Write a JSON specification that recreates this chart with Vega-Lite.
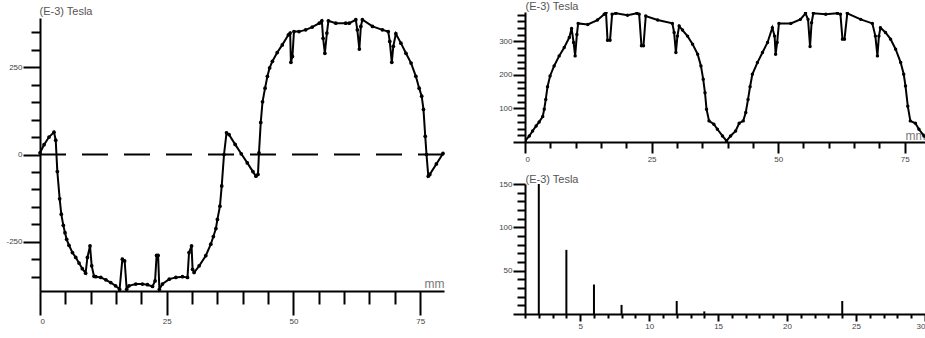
{
  "$schema": "https://vega.github.io/schema/vega-lite/v6.json",
  "padding": {"left": 5, "top": 0, "right": 0, "bottom": 0},
  "background": "white",
  "config": {
    "view": {"stroke": null},
    "axis": {
      "grid": false,
      "domainColor": "black",
      "domainWidth": 2,
      "tickColor": "black",
      "tickWidth": 2,
      "labelFont": "Liberation Sans",
      "labelFontSize": 8,
      "labelColor": "#444",
      "labelOverlap": false,
      "titleFont": "Liberation Sans",
      "titleFontSize": 11,
      "titleFontWeight": "normal",
      "titleColor": "#555"
    }
  },
  "datasets": {
    "signed": [
      {"mm":0,"B":5},{"mm":0.8,"B":28},{"mm":1.78,"B":50},{"mm":2.76,"B":64},{"mm":3.1,"B":41},{"mm":3.42,"B":-49},{"mm":3.88,"B":-127},{"mm":4.2,"B":-171},{"mm":4.6,"B":-203},{"mm":4.93,"B":-224},{"mm":5.26,"B":-243},{"mm":5.72,"B":-260},{"mm":6.4,"B":-281},{"mm":7.05,"B":-295},{"mm":7.7,"B":-311},{"mm":8.35,"B":-327},{"mm":9.0,"B":-340},{"mm":9.35,"B":-295},{"mm":9.87,"B":-262},{"mm":10.2,"B":-319},{"mm":10.66,"B":-349},{"mm":11.0,"B":-350},{"mm":12.0,"B":-352},{"mm":13.0,"B":-359},{"mm":13.95,"B":-367},{"mm":14.9,"B":-376},{"mm":15.7,"B":-386},{"mm":16.25,"B":-300},{"mm":16.7,"B":-305},{"mm":17.1,"B":-386},{"mm":17.56,"B":-376},{"mm":18.9,"B":-371},{"mm":20.2,"B":-371},{"mm":21.2,"B":-373},{"mm":22.2,"B":-378},{"mm":22.7,"B":-362},{"mm":23.0,"B":-289},{"mm":23.3,"B":-289},{"mm":23.55,"B":-386},{"mm":24.15,"B":-371},{"mm":25.5,"B":-357},{"mm":26.8,"B":-352},{"mm":28.1,"B":-350},{"mm":29.1,"B":-352},{"mm":29.4,"B":-281},{"mm":29.9,"B":-262},{"mm":30.1,"B":-329},{"mm":30.4,"B":-338},{"mm":31.4,"B":-319},{"mm":32.7,"B":-290},{"mm":33.7,"B":-257},{"mm":34.2,"B":-235},{"mm":34.7,"B":-212},{"mm":35.0,"B":-186},{"mm":35.5,"B":-148},{"mm":35.85,"B":-90},{"mm":36.3,"B":0},{"mm":36.8,"B":62},{"mm":37.3,"B":57},{"mm":38.5,"B":29},{"mm":39.7,"B":2},{"mm":40.9,"B":-24},{"mm":42.0,"B":-49},{"mm":42.6,"B":-62},{"mm":43.0,"B":-57},{"mm":43.2,"B":5},{"mm":43.55,"B":92},{"mm":43.9,"B":151},{"mm":44.4,"B":190},{"mm":44.86,"B":224},{"mm":45.3,"B":248},{"mm":45.85,"B":267},{"mm":46.8,"B":292},{"mm":47.8,"B":314},{"mm":49.0,"B":343},{"mm":49.35,"B":348},{"mm":49.5,"B":264},{"mm":49.8,"B":281},{"mm":50.1,"B":352},{"mm":51.1,"B":352},{"mm":52.4,"B":357},{"mm":53.7,"B":365},{"mm":55.1,"B":376},{"mm":55.6,"B":383},{"mm":55.85,"B":333},{"mm":56.2,"B":290},{"mm":56.6,"B":348},{"mm":56.9,"B":383},{"mm":58.35,"B":376},{"mm":60.3,"B":376},{"mm":61.0,"B":376},{"mm":62.3,"B":386},{"mm":62.6,"B":357},{"mm":63.0,"B":302},{"mm":63.3,"B":367},{"mm":63.6,"B":386},{"mm":65.6,"B":367},{"mm":67.55,"B":357},{"mm":68.7,"B":352},{"mm":69.0,"B":324},{"mm":69.4,"B":264},{"mm":69.7,"B":310},{"mm":70.2,"B":346},{"mm":71.2,"B":319},{"mm":72.2,"B":290},{"mm":73.2,"B":262},{"mm":74.15,"B":224},{"mm":74.8,"B":190},{"mm":75.3,"B":167},{"mm":75.65,"B":129},{"mm":76.0,"B":52},{"mm":76.25,"B":0},{"mm":76.6,"B":-62},{"mm":76.9,"B":-57},{"mm":78.2,"B":-27},{"mm":79.5,"B":3}
    ],
    "absval": [
      {"mm":0,"B":3},{"mm":0.85,"B":18},{"mm":1.5,"B":33},{"mm":2.2,"B":48},{"mm":2.8,"B":60},{"mm":3.5,"B":76},{"mm":3.8,"B":98},{"mm":4.1,"B":127},{"mm":4.45,"B":165},{"mm":4.95,"B":197},{"mm":5.75,"B":227},{"mm":6.75,"B":257},{"mm":7.75,"B":282},{"mm":8.75,"B":312},{"mm":9.2,"B":339},{"mm":9.6,"B":297},{"mm":9.9,"B":257},{"mm":10.25,"B":321},{"mm":10.5,"B":354},{"mm":12.4,"B":351},{"mm":14.3,"B":364},{"mm":15.65,"B":381},{"mm":16.0,"B":386},{"mm":16.3,"B":304},{"mm":16.8,"B":304},{"mm":17.2,"B":381},{"mm":17.95,"B":384},{"mm":20.25,"B":378},{"mm":22.1,"B":384},{"mm":22.55,"B":381},{"mm":23.0,"B":287},{"mm":23.4,"B":287},{"mm":23.85,"B":376},{"mm":26.2,"B":364},{"mm":29.1,"B":354},{"mm":29.45,"B":327},{"mm":29.8,"B":267},{"mm":30.1,"B":316},{"mm":30.45,"B":346},{"mm":31.1,"B":334},{"mm":32.1,"B":316},{"mm":33.1,"B":292},{"mm":34.1,"B":262},{"mm":34.75,"B":227},{"mm":35.2,"B":187},{"mm":35.55,"B":147},{"mm":35.85,"B":98},{"mm":36.35,"B":63},{"mm":37.3,"B":53},{"mm":38.0,"B":38},{"mm":39.0,"B":18},{"mm":39.8,"B":3},
      {"mm":40.6,"B":18},{"mm":41.6,"B":33},{"mm":42.3,"B":56},{"mm":43.1,"B":63},{"mm":43.6,"B":88},{"mm":44.05,"B":127},{"mm":44.45,"B":165},{"mm":44.9,"B":202},{"mm":45.9,"B":237},{"mm":46.9,"B":267},{"mm":47.9,"B":297},{"mm":48.85,"B":341},{"mm":49.3,"B":316},{"mm":49.5,"B":262},{"mm":49.8,"B":297},{"mm":50.15,"B":354},{"mm":52.5,"B":354},{"mm":54.4,"B":366},{"mm":55.4,"B":384},{"mm":55.9,"B":366},{"mm":56.3,"B":285},{"mm":56.6,"B":356},{"mm":56.95,"B":384},{"mm":59.4,"B":381},{"mm":61.7,"B":384},{"mm":62.3,"B":381},{"mm":62.7,"B":307},{"mm":63.1,"B":307},{"mm":63.65,"B":384},{"mm":66.3,"B":366},{"mm":68.6,"B":354},{"mm":69.2,"B":316},{"mm":69.6,"B":257},{"mm":69.9,"B":316},{"mm":70.2,"B":341},{"mm":71.2,"B":327},{"mm":72.2,"B":307},{"mm":73.2,"B":277},{"mm":74.2,"B":237},{"mm":74.8,"B":202},{"mm":75.15,"B":167},{"mm":75.6,"B":107},{"mm":76.1,"B":63},{"mm":77.1,"B":56},{"mm":77.8,"B":38},{"mm":78.8,"B":18},{"mm":79.5,"B":11}
    ],
    "harmonics": [
      {"n":2,"B":150},{"n":4,"B":74},{"n":6,"B":34},{"n":8,"B":10.5},{"n":12,"B":15},{"n":14,"B":3},{"n":24,"B":15}
    ]
  },
  "spacing": 51,
  "hconcat": [
    {
      "bounds": "flush",
      "spacing": 5,
      "vconcat": [
        {"width": 404, "height": 1, "data": {"values": []}, "mark": "point"},
        {
          "width": 404,
          "height": 273,
          "layer": [
            {
              "data": {"values": [{"z": 0}]},
              "mark": {"type": "rule", "strokeDash": [26, 16], "strokeWidth": 2, "color": "black"},
              "encoding": {"y": {"field": "z", "type": "quantitative"}}
            },
            {
              "data": {"name": "signed"},
              "mark": {"type": "line", "color": "black", "strokeWidth": 2, "point": {"filled": true, "size": 14, "color": "black"}},
              "encoding": {
                "x": {
                  "field": "mm", "type": "quantitative",
                  "scale": {"domain": [0, 79.7], "nice": false, "zero": false},
                  "axis": {
                    "values": [0,5,10,15,20,25,30,35,40,45,50,55,60,65,70,75],
                    "tickCount": 1000,
                    "tickSize": {"condition": {"test": "datum.value % 25 === 0", "value": 24}, "value": 13},
                    "labelExpr": "datum.value % 25 === 0 ? '' + datum.value : ''",
                    "labelPadding": 2,
                    "title": "mm", "titleFontSize": 12, "titleColor": "#777",
                    "titleX": 404, "titleY": -4, "titleAlign": "right", "titleBaseline": "alphabetic"
                  }
                },
                "y": {
                  "field": "B", "type": "quantitative",
                  "scale": {"domain": [-391, 391], "nice": false},
                  "axis": {
                    "values": [-350,-300,-250,-200,-150,-100,-50,0,50,100,150,200,250,300,350],
                    "tickCount": 1000,
                    "tickSize": {"condition": {"test": "datum.value % 250 === 0", "value": 17}, "value": 9},
                    "labelExpr": "datum.value % 250 === 0 ? '' + datum.value : ''",
                    "labelPadding": 1,
                    "title": "(E-3) Tesla", "titleAngle": 0, "titleAlign": "left", "titleBaseline": "alphabetic",
                    "titleX": -1, "titleY": -4
                  }
                }
              }
            }
          ]
        }
      ]
    },
    {
      "bounds": "flush",
      "spacing": 42,
      "vconcat": [
        {
          "width": 400,
          "height": 130,
          "data": {"name": "absval"},
          "mark": {"type": "line", "color": "black", "strokeWidth": 2, "clip": true, "point": {"filled": true, "size": 12, "color": "black", "clip": true}},
          "encoding": {
            "x": {
              "field": "mm", "type": "quantitative",
              "scale": {"domain": [0, 79], "nice": false, "zero": false},
              "axis": {
                "tickCount": 16,
                "tickSize": {"condition": {"test": "datum.value % 25 === 0", "value": 11}, "value": 6},
                "labelExpr": "datum.value % 25 === 0 ? '' + datum.value : ''",
                "labelPadding": 2,
                "title": "mm", "titleFontSize": 12, "titleColor": "#777",
                "titleX": 400, "titleY": -3, "titleAlign": "right", "titleBaseline": "alphabetic"
              }
            },
            "y": {
              "field": "B", "type": "quantitative",
              "scale": {"domain": [0, 388], "nice": false},
              "axis": {
                "tickCount": 20,
                "tickSize": {"condition": {"test": "datum.value % 100 === 0", "value": 12}, "value": 8},
                "labelExpr": "datum.value % 100 === 0 && datum.value > 0 ? '' + datum.value : ''",
                "labelPadding": 1,
                "title": "(E-3) Tesla", "titleAngle": 0, "titleAlign": "left", "titleBaseline": "alphabetic",
                "titleX": 0, "titleY": -3
              }
            }
          }
        },
        {
          "width": 400,
          "height": 130,
          "data": {"name": "harmonics"},
          "mark": {"type": "rule", "color": "black", "strokeWidth": 2},
          "encoding": {
            "x": {
              "field": "n", "type": "quantitative",
              "scale": {"domain": [1, 30], "nice": false, "zero": false},
              "axis": {
                "tickCount": 30,
                "tickSize": {"condition": {"test": "datum.value % 5 === 0", "value": 7}, "value": 4},
                "labelExpr": "datum.value % 5 === 0 ? '' + datum.value : ''",
                "labelFlush": true,
                "labelPadding": 1,
                "title": null
              }
            },
            "y": {
              "field": "B", "type": "quantitative",
              "scale": {"domain": [0, 150], "nice": false},
              "axis": {
                "tickCount": 15,
                "tickSize": {"condition": {"test": "datum.value % 50 === 0", "value": 12}, "value": 8},
                "labelExpr": "datum.value % 50 === 0 && datum.value > 0 ? '' + datum.value : ''",
                "labelPadding": 1,
                "title": "(E-3) Tesla", "titleAngle": 0, "titleAlign": "left", "titleBaseline": "alphabetic",
                "titleX": 0, "titleY": -2
              }
            },
            "y2": {"datum": 0}
          }
        }
      ]
    }
  ]
}
